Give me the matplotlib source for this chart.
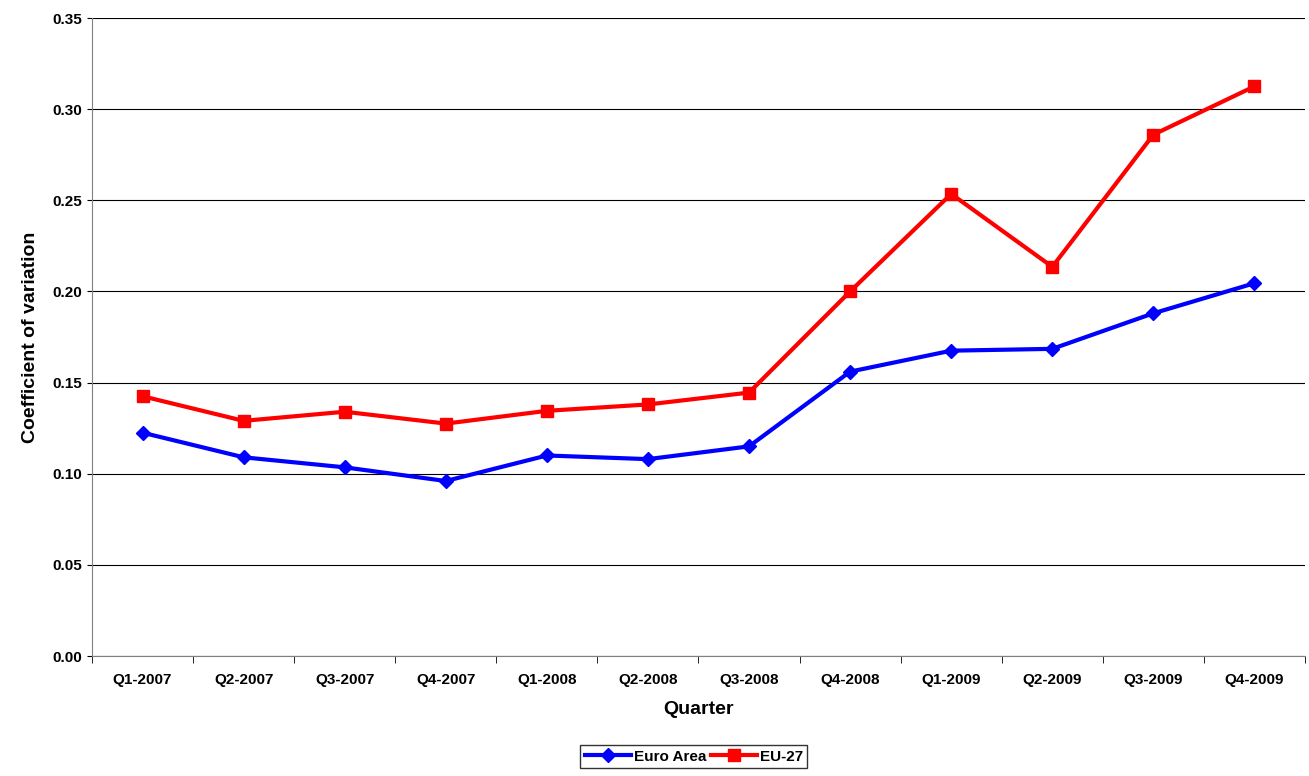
import numpy as np
import matplotlib.pyplot as plt

quarters = ['Q1-2007', 'Q2-2007', 'Q3-2007', 'Q4-2007', 'Q1-2008', 'Q2-2008',
            'Q3-2008', 'Q4-2008', 'Q1-2009', 'Q2-2009', 'Q3-2009', 'Q4-2009']
euro_area = [0.1225, 0.109, 0.1035, 0.096, 0.110, 0.108, 0.115, 0.156, 0.1675, 0.1685, 0.188, 0.2045]
eu27 = [0.1425, 0.129, 0.134, 0.1275, 0.1345, 0.138, 0.1445, 0.200, 0.2535, 0.2135, 0.286, 0.3125]

plt.rcParams['font.family'] = 'Liberation Sans'
fig = plt.figure(figsize=(13.09, 7.76), dpi=100)
ax = fig.add_axes([92 / 1309, 1 - 656 / 776, 1213 / 1309, 638 / 776])

x = np.arange(len(quarters))
ax.plot(x, euro_area, color='#0000FF', marker='D', markersize=7, linewidth=3, label='Euro Area')
ax.plot(x, eu27, color='#FF0000', marker='s', markersize=9, linewidth=3, label='EU-27')

ax.set_xlim(-0.5, len(quarters) - 0.5)
ax.set_ylim(0, 0.35)
ax.set_yticks(np.arange(0, 0.351, 0.05))
ax.set_yticklabels([f'{v:.2f}' for v in np.arange(0, 0.351, 0.05)], fontsize=11, fontweight='bold')
ax.set_xticks(x)
ax.set_xticklabels(quarters, fontsize=11, fontweight='bold')
ax.set_xticks(np.arange(-0.5, len(quarters)), minor=True)
ax.tick_params(axis='x', which='major', length=0, pad=12)
ax.tick_params(axis='x', which='minor', length=5)
ax.yaxis.grid(True, color='black', linewidth=0.8)
for s in ['top', 'right']:
    ax.spines[s].set_visible(False)
ax.spines['left'].set_color('#808080')
ax.spines['bottom'].set_color('#808080')

ax.set_xlabel('Quarter', fontsize=14, fontweight='bold', labelpad=10)
ax.set_ylabel('Coefficient of variation', fontsize=14, fontweight='bold', labelpad=10)

leg = fig.legend(loc='lower center', bbox_to_anchor=(0.53, 0.0), ncol=2, frameon=True,
                 fancybox=False, edgecolor='black', prop={'weight': 'bold', 'size': 11},
                 handlelength=3, columnspacing=0.3, handletextpad=0.2, borderpad=0.3)

fig.savefig('out.png', dpi=100)
